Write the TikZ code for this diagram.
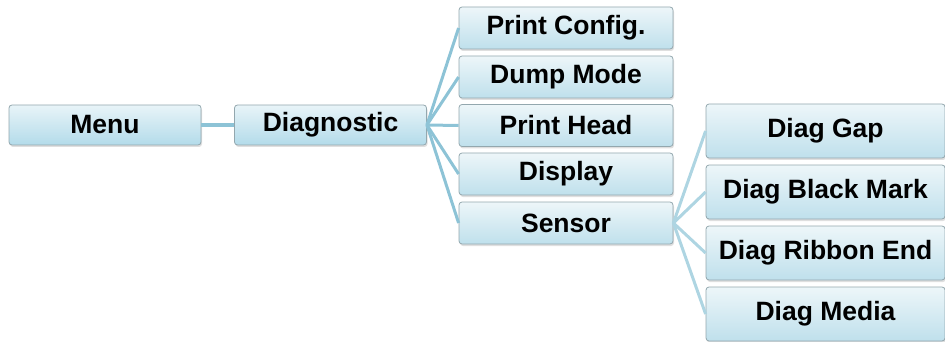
\documentclass[tikz,border=0pt]{standalone}
\usepackage{fontspec}
\setmainfont{Liberation Sans}
\usetikzlibrary{shadows}
\definecolor{boxtop}{HTML}{EDF6F9}
\definecolor{boxbot}{HTML}{BFE0EC}
\definecolor{boxtopB}{HTML}{E8F4F8}
\definecolor{boxbotB}{HTML}{B3DBEA}
\definecolor{boxline}{HTML}{93A7AE}
\definecolor{linkc}{HTML}{8DC3D6}
\definecolor{linkd}{HTML}{AED5E2}
\begin{document}
\begin{tikzpicture}[x=1pt,y=-1pt,
  mbox/.style={draw=boxline, line width=0.8pt, rounded corners=3pt,
    top color=boxtop, bottom color=boxbot, inner sep=0pt,
    font=\fontsize{26.5}{30}\selectfont\bfseries,
    drop shadow={opacity=0.25, shadow xshift=1pt, shadow yshift=-2pt}},
  boxA/.style={mbox, top color=boxtopB, bottom color=boxbotB, minimum width=192pt, minimum height=40pt},
  boxB/.style={mbox, minimum width=214pt, minimum height=42pt},
  boxC/.style={mbox, minimum width=239pt, minimum height=54pt},
  link/.style={draw=linkc, line width=3pt},
  linkB/.style={draw=linkd, line width=3pt}]
\useasboundingbox (0,0) rectangle (945,342);
\node[boxA] (menu) at (105,125) {Menu};
\node[boxA] (diag) at (330.5,125) {Diagnostic};
\node[boxB] (pc) at (566,28) {Print Config.};
\node[boxB] (dm) at (566,77) {Dump Mode};
\node[boxB] (ph) at (566,125.5) {Print Head};
\node[boxB] (disp) at (566,174) {Display};
\node[boxB] (sens) at (566,223) {Sensor};
\node[boxC] (gap) at (825.5,131) {Diag Gap};
\node[boxC] (bm) at (825.5,192) {Diag Black Mark};
\node[boxC] (re) at (825.5,253) {Diag Ribbon End};
\node[boxC] (media) at (825.5,314) {Diag Media};
\draw[link, line width=4pt] (menu.east) -- (diag.west);
\foreach \t in {pc,dm,ph,disp,sens} \draw[link] (diag.east) -- (\t.west);
\foreach \t in {gap,bm,re,media} \draw[linkB] (sens.east) -- (\t.west);
\end{tikzpicture}
\end{document}
